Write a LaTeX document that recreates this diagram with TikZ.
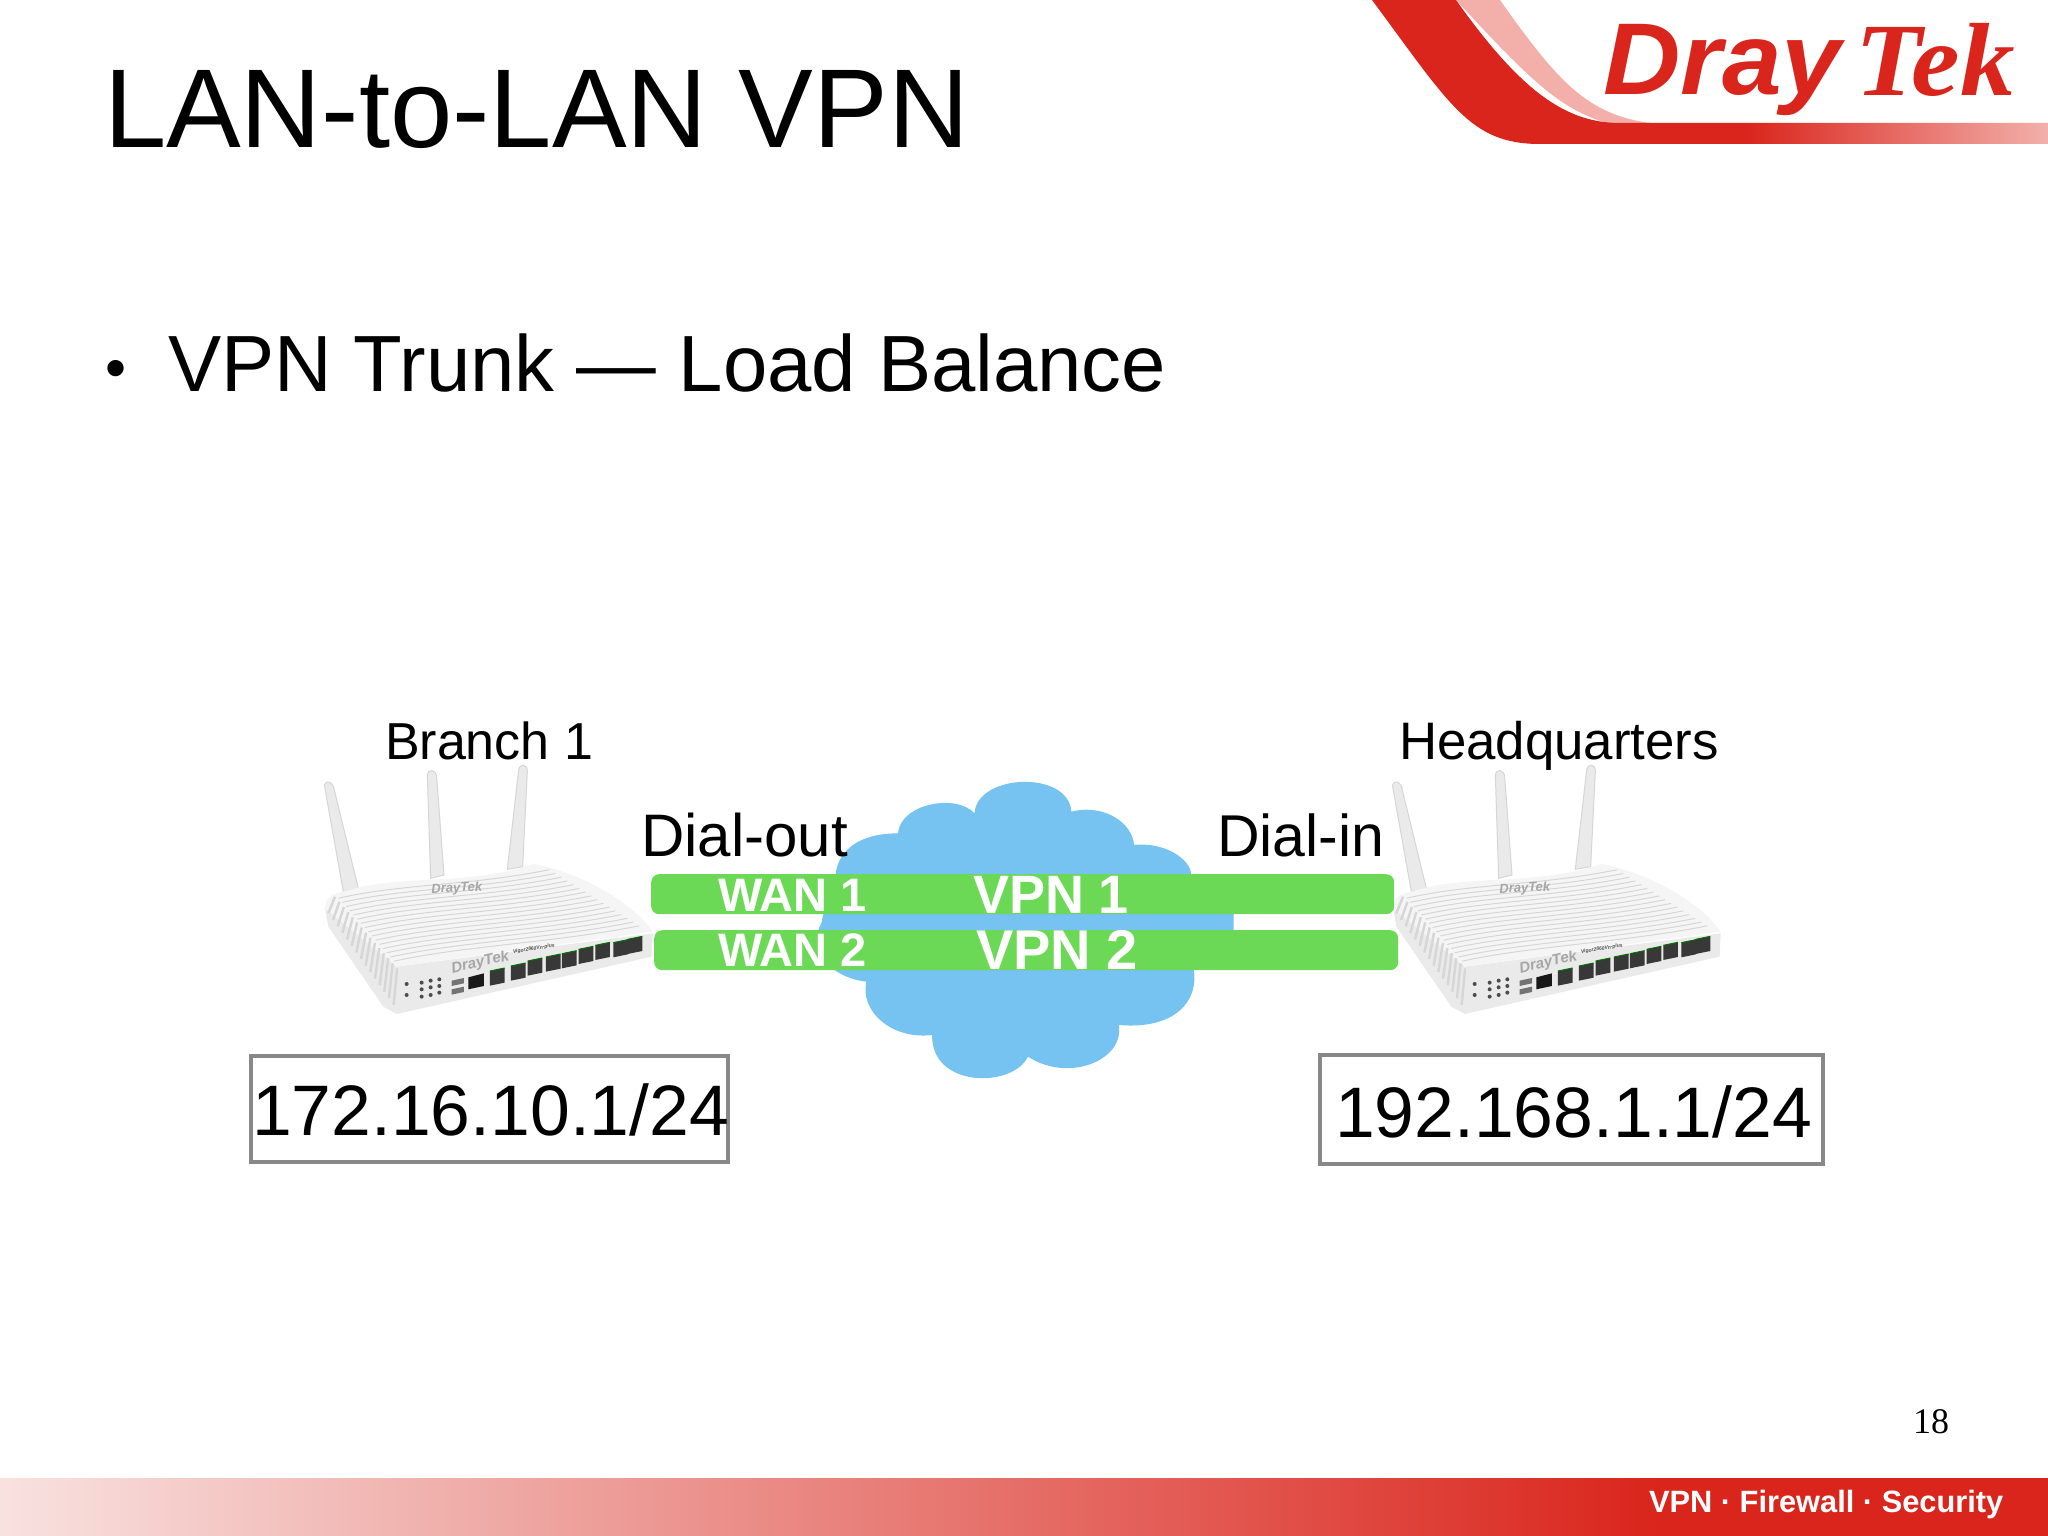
\documentclass[tikz,border=0pt]{standalone}
\usepackage{fontspec}
\setmainfont{Liberation Sans}
\newfontfamily\numfont{Liberation Serif}
\newfontfamily\drayfont[FakeStretch=1.05]{Liberation Sans}
\newfontfamily\tekfont[FakeStretch=1.05]{Liberation Serif}
\usetikzlibrary{calc}

\definecolor{drayred}{HTML}{DA251C}
\definecolor{draypink}{HTML}{F3B0AB}
\definecolor{cloudblue}{HTML}{76C2F1}
\definecolor{trunkgreen}{HTML}{6BD856}
\definecolor{boxgray}{HTML}{888888}
\definecolor{stripegray}{HTML}{D6D6D6}
\definecolor{shellgray}{HTML}{EAEAEA}
\definecolor{footerpale}{HTML}{F8E2E0}

\pgfdeclarehorizontalshading{logofade}{100bp}{color(0bp)=(drayred);color(52.7bp)=(drayred);color(75bp)=(draypink);color(100bp)=(draypink)}
\pgfdeclarehorizontalshading{footerfade}{100bp}{color(0bp)=(footerpale);color(25bp)=(footerpale);color(65.5bp)=(drayred);color(100bp)=(drayred)}

\newcommand{\fsize}[1]{\fontsize{#1}{#1}\selectfont}

\tikzset{
  label/.style={anchor=base west,inner sep=0pt,outer sep=0pt},
  wanlabel/.style={label,text=white,font=\fsize{47}\bfseries},
  vpnlabel/.style={label,text=white,font=\fsize{54}\bfseries},
  trunkbar/.style={anchor=north west,inner sep=0pt,fill=trunkgreen,
    rounded corners=8pt,minimum height=40pt},
  lanbox/.style={anchor=north west,inner sep=0pt,draw=boxgray,line width=3.5pt,fill=white},
  antenna/.style={fill=shellgray,draw=stripegray,line width=1pt}
}

\newcommand{\router}[2]{%
  \begin{scope}[shift={(#1,740)},x=0.3333pt,y=-0.3333pt]
    \filldraw[antenna] (73,135) .. controls (80,118) and (100,125) .. (103,150) -- (175,445) -- (130,455) -- cycle;
    \filldraw[antenna] (382,105) .. controls (385,85) and (408,88) .. (410,110) -- (432,405) -- (392,415) -- cycle;
    \filldraw[antenna] (656,90) .. controls (660,68) and (684,72) .. (682,95) -- (668,380) -- (622,388) -- cycle;
    \fill[shellgray] (75,505) -- (290,680) -- (1058,580) -- (1055,650) -- (290,822) -- (250,800) -- (85,560) -- cycle;
    \fill[white!96!black] (75,505) .. controls (80,470) and (95,462) .. (130,455)
      .. controls (300,400) and (500,440) .. (700,372)
      .. controls (850,400) and (1000,490) .. (1058,575) -- (290,680) -- cycle;
    \coordinate (#2fl) at (290,672);
    \coordinate (#2bl) at (105,462);
    \coordinate (#2fr) at (1030,565);
    \coordinate (#2br) at (730,378);
    \foreach \t in {0.04,0.10,...,0.98}
      \draw[stripegray,line width=1pt]
        ($(#2fl)!\t!(#2bl)$) .. controls +(200,-45) and +(-250,50) .. ($(#2fr)!\t!(#2br)$);
    \foreach \t in {0,0.07,...,1.0}
      \draw[stripegray,line width=2.4pt]
        ($(85,520)!\t!(285,800)$) -- ($(105,470)!\t!(295,690)$);
    \foreach \px/\py in {592/710,655/695,705/680,760/668,808/658,858/645,908/633,962/625,1005/615}{
      \fill[black!78] (\px-22,\py-17) -- (\px+22,\py-26) -- (\px+22,\py+18) -- (\px-22,\py+27) -- cycle;
      \draw[green!45!black,line width=1pt] (\px-22,\py-17) -- (\px+22,\py-26);
    }
    \fill[black!90] (505,712) -- (552,700) -- (552,738) -- (505,748) -- cycle;
    \foreach \py in {722,748}
      \fill[black!55] (455,\py) -- (492,\py-8) -- (492,\py+8) -- (455,\py+16) -- cycle;
    \foreach \px/\py in {365/728,392/722,418/718,365/748,392/742,418/738,365/770,392/765,418/758,320/732,320/765}
      \fill[black!70] (\px,\py) circle (2pt);
    \node[label,rotate=3,text=black!35,font=\fsize{13}\bfseries\itshape] (#2top) at (395,460) {DrayTek};
    \node[label,rotate=13,text=black!35,font=\fsize{15}\bfseries\itshape] (#2logo) at (458,700) {DrayTek};
    \node[label,rotate=9,text=black!70,font=\fsize{5}\bfseries\itshape] (#2model) at (640,640) {Vigor2860Vn-plus};
  \end{scope}
}

\begin{document}
\begin{tikzpicture}[x=1pt,y=-1pt]
  \useasboundingbox (0,0) rectangle (2048,1536);
  \fill[white] (0,0) rectangle (2048,1536);

  % logo
  \fill[draypink] (1456,0) -- (1500,0) .. controls (1560,85) and (1590,118) .. (1660,124) -- (1610,124)
    .. controls (1560,110) and (1530,80) .. cycle;
  \shade[shading=logofade] (1372,0) -- (1456,0) .. controls (1520,90) and (1565,123) .. (1620,123) -- (2048,123)
    -- (2048,144) -- (1540,144) .. controls (1470,144) and (1450,105) .. cycle;
  \node[label,text=drayred,font=\drayfont\fsize{102}\bfseries\itshape] (dray) at (1603,95) {Dray};
  \node[label,text=drayred,font=\tekfont\fsize{104}\bfseries\itshape] (tek) at (1855,96) {Tek};

  % footer
  \shade[shading=footerfade] (0,1478) rectangle (2048,1535);
  \node[label,text=white,font=\fsize{30.8}\bfseries] (tagline) at (1649,1512) {VPN · Firewall · Security};
  \node[label,font=\numfont\fsize{36}] (pageno) at (1913,1433) {18};

  \node[label,font=\fsize{112}] (title) at (104,147) {LAN-to-LAN VPN};
  \node[label,font=\fsize{60}] (bullet) at (105,388) {•};
  \node[label,font=\fsize{79.7}] (topic) at (168,391) {VPN Trunk — Load Balance};

  \router{300}{left}
  \router{1368}{right}

  % cloud
  \begin{scope}[shift={(620,760)},x=0.51pt,y=-0.3333pt]
    \fill[cloudblue] (695,160) .. controls (700,40) and (880,30) .. (885,155)
      .. controls (950,130) and (1005,190) .. (1008,255)
      .. controls (1070,245) and (1120,300) .. (1120,345)
      -- (1120,462) -- (1203,462) -- (1203,510) -- (1120,510) -- (1125,630)
      .. controls (1135,720) and (1090,810) .. (978,795)
      .. controls (990,900) and (880,970) .. (800,890)
      .. controls (770,985) and (610,985) .. (612,825)
      .. controls (530,840) and (470,750) .. (483,665)
      .. controls (400,650) and (370,550) .. (395,490)
      .. controls (400,440) and (410,420) .. (425,400)
      .. controls (410,300) and (450,220) .. (545,220)
      .. controls (550,130) and (660,100) .. cycle;
  \end{scope}

  \node[trunkbar,minimum width=743pt] (trunka) at (651,874) {};
  \node[trunkbar,minimum width=744pt] (trunkb) at (654,930) {};
  \node[wanlabel] (wana) at (718,911) {WAN 1};
  \node[wanlabel] (wanb) at (718,966) {WAN 2};
  \node[vpnlabel] (vpna) at (973,913) {VPN 1};
  \node[vpnlabel,font=\fsize{56}\bfseries] (vpnb) at (976,969) {VPN 2};

  \node[label,font=\fsize{52}] (branch) at (385,759) {Branch 1};
  \node[label,font=\fsize{52.8}] (hq) at (1399,759) {Headquarters};
  \node[label,font=\fsize{60}] (dialout) at (641,856) {Dial-out};
  \node[label,font=\fsize{59}] (dialin) at (1217,856) {Dial-in};

  \node[lanbox,minimum width=477pt,minimum height=106pt] (lanleft) at (249,1054) {};
  \node[lanbox,minimum width=503pt,minimum height=109pt] (lanright) at (1318,1053) {};
  \node[label,font=\fsize{71.5}] (ipleft) at (252,1135) {172.16.10.1/24};
  \node[label,font=\fsize{71.5}] (ipright) at (1335,1137) {192.168.1.1/24};
\end{tikzpicture}
\end{document}
